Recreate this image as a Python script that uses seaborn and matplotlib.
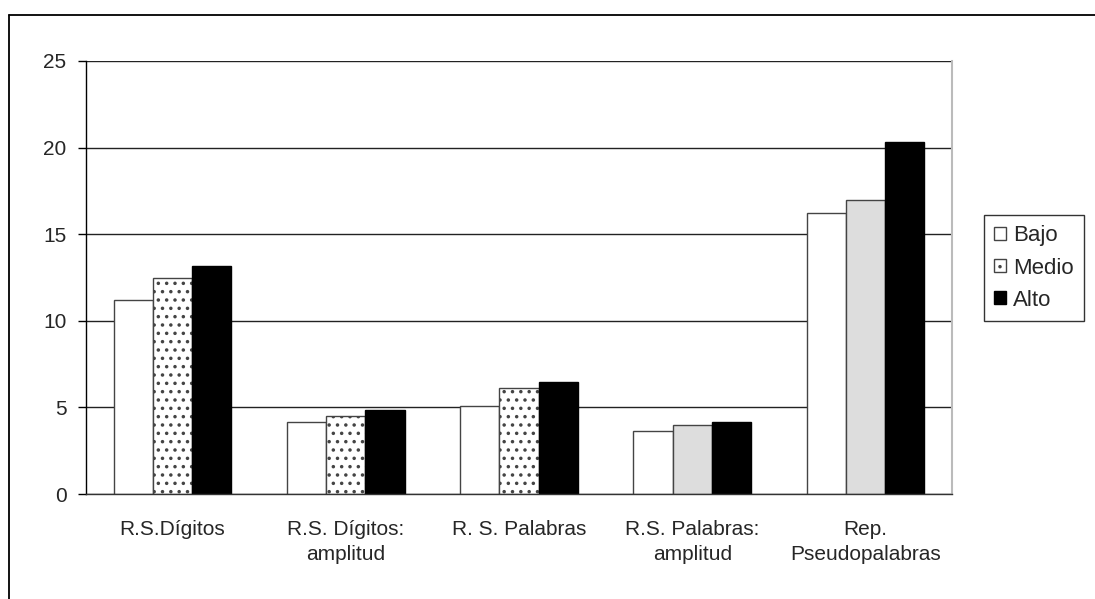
import pandas as pd
import matplotlib.pyplot as plt
import matplotlib.lines as mlines
import matplotlib.patches as mpatches
import seaborn as sns

# values
categories = ["R.S.Dígitos", "R.S. Dígitos:\namplitud", "R. S. Palabras",
              "R.S. Palabras:\namplitud", "Rep.\nPseudopalabras"]
bajo = [11.2, 4.15, 5.1, 3.65, 16.2]
medio = [12.5, 4.5, 6.1, 4.0, 16.95]
alto = [13.15, 4.85, 6.45, 4.15, 20.35]
levels = ["Bajo", "Medio", "Alto"]
y_ticks = [0, 5, 10, 15, 20, 25]

sns.set_theme(style="white")
plt.rcParams["font.family"] = ["Liberation Sans", "DejaVu Sans"]
plt.rcParams["font.size"] = 15
plt.rcParams["hatch.linewidth"] = 1.3

df = pd.DataFrame({
    "grupo": categories * 3,
    "nivel": ["Bajo"] * 5 + ["Medio"] * 5 + ["Alto"] * 5,
    "valor": bajo + medio + alto,
})

fig = plt.figure(figsize=(10.95, 5.99), dpi=100)
ax = fig.add_axes([86 / 1095, 1 - 494 / 599, (952 - 86) / 1095, (494 - 61) / 599])

sns.barplot(data=df, x="grupo", y="valor", hue="nivel", hue_order=levels,
            order=categories, width=0.68, gap=0, legend=False, ax=ax,
            palette={"Bajo": "white", "Medio": "white", "Alto": "black"},
            edgecolor="#444444", linewidth=1.0, saturation=1)

# Medio: dotted for the first three groups, light gray for the last two
for i, patch in enumerate(ax.containers[1]):
    if i < 3:
        patch.set_hatch("..")
        patch.set_facecolor("white")
    else:
        patch.set_facecolor("#DDDDDD")
for patch in ax.containers[2]:
    patch.set_edgecolor("black")

ax.set_ylim(0, 25)
ax.set_xlim(-0.5, len(categories) - 0.5)
ax.set_yticks(y_ticks)
ax.set_yticklabels([str(t) for t in y_ticks], fontsize=15)
ax.set_xticks(range(len(categories)))
ax.set_xticklabels(categories, fontsize=15, linespacing=1.4)
ax.set_xticks([i - 0.5 for i in range(len(categories) + 1)], minor=True)
ax.tick_params(axis="x", which="major", length=0, pad=19)
ax.tick_params(axis="x", which="minor", length=6, width=1, color="#333333", direction="out")
ax.tick_params(axis="y", which="major", length=6, width=1, color="black", direction="out", pad=8, left=True)
ax.set_xlabel("")
ax.set_ylabel("")

ax.yaxis.grid(True, color="#222222", linewidth=1.0)
ax.set_axisbelow(True)
ax.spines["top"].set_visible(False)
ax.spines["left"].set_color("black")
ax.spines["left"].set_linewidth(1.0)
ax.spines["bottom"].set_color("#333333")
ax.spines["bottom"].set_linewidth(1.0)
ax.spines["right"].set_color("#BBBBBB")
ax.spines["right"].set_linewidth(1.5)

handles = [
    mpatches.Patch(facecolor="white", edgecolor="#444444", label="Bajo"),
    mpatches.Patch(facecolor="white", edgecolor="#444444", hatch="..", label="Medio"),
    mpatches.Patch(facecolor="black", edgecolor="black", label="Alto"),
]
leg = fig.legend(handles=handles, loc="center left",
                 bbox_to_anchor=(984 / 1095, 1 - 268 / 599),
                 bbox_transform=fig.transFigure, frameon=True, fancybox=False,
                 edgecolor="black", fontsize=16, handlelength=0.55, handleheight=0.55,
                 handletextpad=0.3, borderpad=0.45, labelspacing=0.5, borderaxespad=0)
leg.get_frame().set_linewidth(1.0)

# outer chart frame (only top and left are inside the picture)
fig.add_artist(mlines.Line2D([9 / 1095, 9 / 1095], [0, 1 - 15 / 599],
                             transform=fig.transFigure, color="black", linewidth=1.3))
fig.add_artist(mlines.Line2D([9 / 1095, 1], [1 - 15 / 599, 1 - 15 / 599],
                             transform=fig.transFigure, color="black", linewidth=1.3))

fig.savefig("out.png", dpi=100)
